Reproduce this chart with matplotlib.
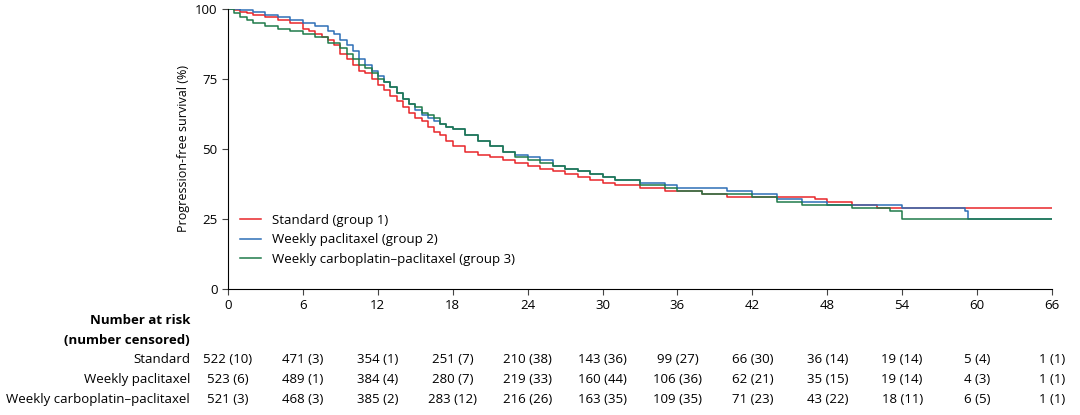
import numpy as np
import matplotlib.pyplot as plt

months = [0, 6, 12, 18, 24, 30, 36, 42, 48, 54, 60, 66]

std_t = [0, 0.5, 1, 1.5, 2, 3, 4, 5, 6, 6.5, 7, 7.5, 8, 8.5, 9, 9.5, 10, 10.5, 11, 11.5, 12, 12.5, 13, 13.5, 14, 14.5, 15, 15.5, 16, 16.5, 17, 17.5, 18, 19, 20, 21, 22, 23, 24, 25, 26, 27, 28, 29, 30, 31, 33, 35, 36, 38, 40, 42, 47, 48, 50, 52, 66]
std_s = [100, 99.5, 99, 98.5, 98, 97, 96, 95, 93, 92, 91, 90, 89, 87, 84, 82, 80, 78, 77, 75, 73, 71, 69, 67, 65, 63, 61, 60, 58, 56, 55, 53, 51, 49, 48, 47, 46, 45, 44, 43, 42, 41, 40, 39, 38, 37, 36, 35, 35, 34, 33, 33, 32, 31, 30, 29, 29]

wp_t = [0, 1, 2, 3, 4, 5, 6, 7, 8, 8.5, 9, 9.5, 10, 10.5, 11, 11.5, 12, 12.5, 13, 13.5, 14, 14.5, 15, 15.5, 16, 16.5, 17, 17.5, 18, 19, 20, 21, 22, 23, 24, 25, 26, 27, 28, 29, 30, 31, 33, 35, 36, 38, 40, 42, 44, 46, 48, 50, 54, 59, 59.3, 66]
wp_s = [100, 99.5, 99, 98, 97, 96, 95, 94, 92, 91, 89, 87, 85, 82, 80, 78, 76, 74, 72, 70, 68, 66, 64, 62, 61, 60, 59, 58, 57, 55, 53, 51, 49, 48, 47, 46, 44, 43, 42, 41, 40, 39, 38, 37, 36, 36, 35, 34, 32, 31, 30, 30, 29, 28, 25, 25]

wc_t = [0, 0.5, 1, 1.5, 2, 3, 4, 5, 6, 7, 8, 9, 9.5, 10, 10.5, 11, 11.5, 12, 12.5, 13, 13.5, 14, 14.5, 15, 15.5, 16, 16.5, 17, 17.5, 18, 19, 20, 21, 22, 23, 24, 25, 26, 27, 28, 29, 30, 31, 33, 35, 36, 38, 40, 42, 44, 46, 50, 53, 54, 66]
wc_s = [100, 98.5, 97, 96, 95, 94, 93, 92, 91, 90, 88, 86, 84, 82, 80, 79, 77, 75, 74, 72, 70, 68, 66, 65, 63, 62, 61, 59, 58, 57, 55, 53, 51, 49, 47, 46, 45, 44, 43, 42, 41, 40, 39, 37, 36, 35, 34, 34, 33, 31, 30, 29, 28, 25, 25]

risk_labels = ["Standard", "Weekly paclitaxel", "Weekly carboplatin\u2013paclitaxel"]
risk_std = ["522 (10)", "471 (3)", "354 (1)", "251 (7)", "210 (38)", "143 (36)", "99 (27)", "66 (30)", "36 (14)", "19 (14)", "5 (4)", "1 (1)"]
risk_wp = ["523 (6)", "489 (1)", "384 (4)", "280 (7)", "219 (33)", "160 (44)", "106 (36)", "62 (21)", "35 (15)", "19 (14)", "4 (3)", "1 (1)"]
risk_wc = ["521 (3)", "468 (3)", "385 (2)", "283 (12)", "216 (26)", "163 (35)", "109 (35)", "71 (23)", "43 (22)", "18 (11)", "6 (5)", "1 (1)"]

red, blue, green = "#e8262a", "#2e6fb7", "#1f7a4a"

plt.rcParams["font.family"] = ["Open Sans", "DejaVu Sans"]
fig = plt.figure(figsize=(10.8, 4.15), dpi=100)
ax = fig.add_axes([228 / 1080, 1 - 289 / 415, 824 / 1080, 280 / 415])
ax.step(std_t, std_s, where="post", color=red, lw=1.1, label="Standard (group 1)")
ax.step(wp_t, wp_s, where="post", color=blue, lw=1.1, label="Weekly paclitaxel (group 2)")
ax.step(wc_t, wc_s, where="post", color=green, lw=1.1, label="Weekly carboplatin\u2013paclitaxel (group 3)")

ax.set_xlim(0, 66)
ax.set_ylim(0, 100)
ax.set_xticks(months)
ax.set_yticks([0, 25, 50, 75, 100])
ax.tick_params(labelsize=9.5, direction="out", length=4, color="#444444")
ax.spines["top"].set_visible(False)
ax.spines["right"].set_visible(False)
ax.set_ylabel("Progression-free survival (%)", fontsize=9)
ax.legend(loc="lower left", bbox_to_anchor=(0.0, 0.04), frameon=False, fontsize=9.5,
          handlelength=1.6, labelspacing=0.5)

def xfig(m):
    return (228 + m / 66 * 824) / 1080

fig.text(190 / 1080, 1 - 320 / 415, "Number at risk", ha="right", va="center", fontsize=9.5, fontweight="bold")
fig.text(190 / 1080, 1 - 340 / 415, "(number censored)", ha="right", va="center", fontsize=9.5, fontweight="bold")
for row, (lab, vals) in enumerate(zip(risk_labels, [risk_std, risk_wp, risk_wc])):
    y = 1 - (359 + 20 * row) / 415
    fig.text(190 / 1080, y, lab, ha="right", va="center", fontsize=9.5)
    for m, v in zip(months, vals):
        fig.text(xfig(m), y, v, ha="center", va="center", fontsize=9.5)

fig.savefig("out.png", dpi=100)
